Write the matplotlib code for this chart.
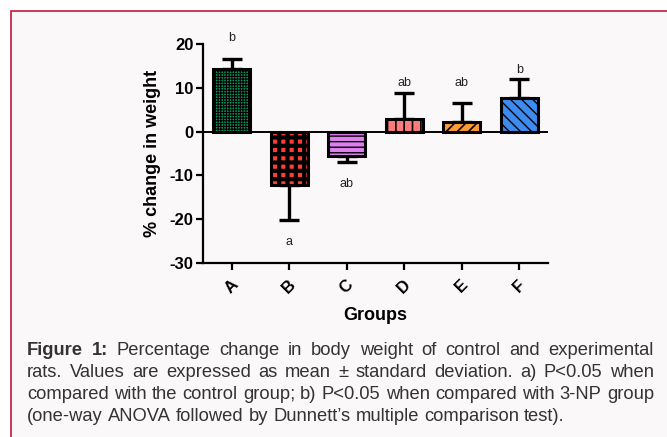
import matplotlib
matplotlib.use("Agg")
import matplotlib.pyplot as plt
from matplotlib.patches import Rectangle

plt.rcParams['font.family'] = ['Liberation Sans', 'DejaVu Sans']

groups = ['A', 'B', 'C', 'D', 'E', 'F']
means = [14.2, -12.2, -5.5, 2.8, 2.3, 7.7]
sds = [2.3, 8.0, 1.5, 6.1, 4.3, 4.4]
letters = ['b', 'a', 'ab', 'ab', 'ab', 'b']
letter_pos = [21.3, -25.2, -12.0, 11.0, 11.0, 14.0]
colors = ['#009A66', '#FF3B3B', '#DD80EE', '#FF7A7A', '#FF9A33', '#3D8BEE']
hatches = ['++++++', '++', '---', '||', '///', '\\\\\\']
hatch_lws = [0.8, 3.0, 1.0, 1.2, 1.2, 1.0]
yticks = [-30, -20, -10, 0, 10, 20]

W, H = 667, 437
fig = plt.figure(figsize=(W / 100, H / 100), dpi=100)
fig.patch.set_facecolor('white')

# caption box
box = Rectangle((11 / W, -0.05), 1.1, 1.05 - 11 / H, transform=fig.transFigure,
                facecolor='#FAF8F9', edgecolor='#C8163C', linewidth=1.2, zorder=-10)
fig.add_artist(box)

ax = fig.add_axes([203 / W, 1 - 263 / H, 345 / W, 219 / H])
ax.set_facecolor('none')
ax.set_zorder(1)

x = list(range(len(groups)))
for i in x:
    b = ax.bar(i, means[i], width=0.64, color=colors[i], edgecolor='black',
               linewidth=2.2, hatch=hatches[i], zorder=3)
    for p in b.patches:
        if hasattr(p, 'set_hatch_linewidth'):
            p.set_hatch_linewidth(hatch_lws[i])

lower = [sds[i] if means[i] < 0 else 0 for i in x]
upper = [sds[i] if means[i] >= 0 else 0 for i in x]
ax.errorbar(x, means, yerr=[lower, upper], fmt='none', ecolor='black',
            elinewidth=2.4, capsize=7.5, capthick=2.4, zorder=2)

ax.axhline(0, color='black', linewidth=1.4, zorder=4)

for i in x:
    ax.text(i, letter_pos[i], letters[i], ha='center', va='center',
            fontsize=9, color='#222222', clip_on=False)

ax.set_xlim(-0.5, 5.5)
ax.set_ylim(-30, 20)
ax.set_yticks(yticks)
ax.set_yticklabels([str(t) for t in yticks], fontweight='bold', fontsize=12)
ax.set_xticks(x)
ax.set_xticklabels(groups, fontweight='bold', fontsize=12, rotation=45)
for s in ['top', 'right']:
    ax.spines[s].set_visible(False)
for s in ['left', 'bottom']:
    ax.spines[s].set_linewidth(1.6)
ax.tick_params(width=1.6, length=5, pad=2)
ax.tick_params(axis='x', pad=5)
ax.set_ylabel('% change in weight', fontweight='bold', fontsize=13, labelpad=6)
ax.set_xlabel('Groups', fontweight='bold', fontsize=13, labelpad=8)

# justified caption
lines = [
    [("Figure", 'bold'), ("1:", 'bold'), ("Percentage", 'normal'), ("change", 'normal'), ("in", 'normal'),
     ("body", 'normal'), ("weight", 'normal'), ("of", 'normal'), ("control", 'normal'), ("and", 'normal'),
     ("experimental", 'normal')],
    [(w, 'normal') for w in "rats. Values are expressed as mean ± standard deviation. a) P<0.05 when".split(' ')],
    [(w, 'normal') for w in "compared with the control group; b) P<0.05 when compared with 3-NP group".split(' ')],
    [(w, 'normal') for w in "(one-way ANOVA followed by Dunnett’s multiple comparison test).".split(' ')],
]
baselines = [355, 377, 399, 421]
x0, x1 = 27, 654
fs = 13.2
renderer = fig.canvas.get_renderer()
for li, (words, yb) in enumerate(zip(lines, baselines)):
    texts = []
    for w, wt in words:
        t = fig.text(0, 1 - yb / H, w, fontsize=fs, fontweight=wt, color='#333333',
                     va='baseline', ha='left')
        texts.append(t)
    widths = [t.get_window_extent(renderer).width for t in texts]
    sp = fig.text(0, 0, 'a b', fontsize=fs)
    sp2 = fig.text(0, 0, 'ab', fontsize=fs)
    natural = sp.get_window_extent(renderer).width - sp2.get_window_extent(renderer).width
    sp.remove(); sp2.remove()
    if li < len(lines) - 1:
        gap = max((x1 - x0 - sum(widths)) / (len(texts) - 1), natural * 0.7)
    else:
        gap = natural
    cx = x0
    for t, wd in zip(texts, widths):
        t.set_x(cx / W)
        cx += wd + gap

fig.savefig('out.png', dpi=100, facecolor='white')
